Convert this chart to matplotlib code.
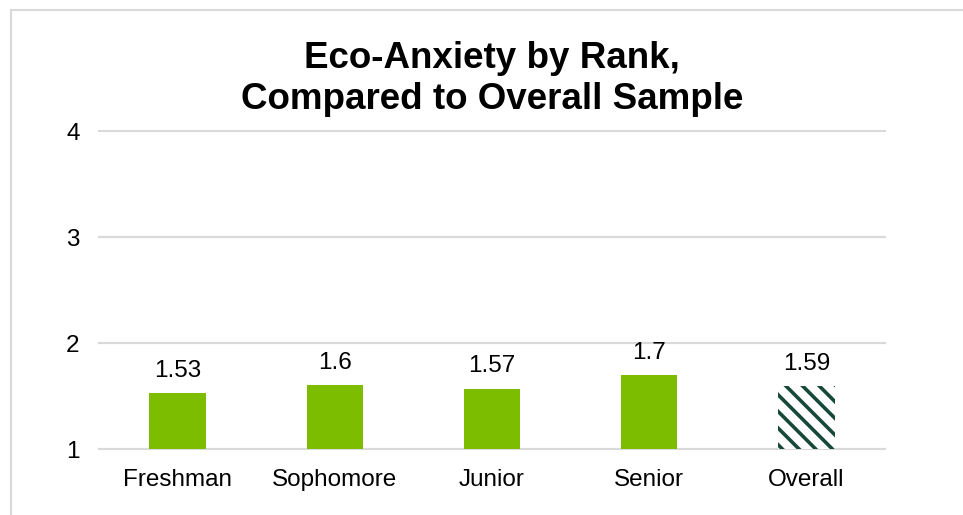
import matplotlib
matplotlib.use("Agg")
import matplotlib.pyplot as plt
from matplotlib.patches import Rectangle

categories = ["Freshman", "Sophomore", "Junior", "Senior", "Overall"]
values = [1.53, 1.6, 1.57, 1.7, 1.59]
labels = ["1.53", "1.6", "1.57", "1.7", "1.59"]
yticks = [1, 2, 3, 4]

plt.rcParams["font.family"] = ["Liberation Sans", "DejaVu Sans"]
plt.rcParams["hatch.linewidth"] = 2.6

W, H = 963, 515
fig = plt.figure(figsize=(W / 100, H / 100), dpi=100)
ax = fig.add_axes([99 / W, 1 - 449 / H, (885 - 99) / W, (449 - 131) / H])

green = "#7DBD00"
hatch_col = "#17493A"
x = list(range(len(categories)))
for i, (c, v) in enumerate(zip(categories, values)):
    if c == "Overall":
        ax.bar(i, v - 1, bottom=1, width=0.365, facecolor="white",
               edgecolor=hatch_col, hatch="\\\\", linewidth=0)
    else:
        ax.bar(i, v - 1, bottom=1, width=0.36, color=green, linewidth=0)
    ax.annotate(labels[i], (i, v), xytext=(0, 8), textcoords="offset points",
                ha="center", va="bottom", fontsize=17.5, color="#000000")

ax.set_xlim(-0.5, len(categories) - 0.5)
ax.set_ylim(1, 4)
ax.set_yticks(yticks)
ax.set_yticklabels([str(t) for t in yticks])
ax.set_xticks(x)
ax.set_xticklabels(categories)
ax.tick_params(axis="both", length=0, labelsize=17.5, colors="#000000")
ax.tick_params(axis="y", pad=14)
ax.tick_params(axis="x", pad=14.5)
for s in ax.spines.values():
    s.set_visible(False)
ax.grid(axis="y", color="#D9D9D9", linewidth=1.5)
ax.set_axisbelow(True)
for t in yticks:
    ax.axhline(t, color="#D9D9D9", linewidth=1.5, zorder=0.5, clip_on=False)

fig.text(492 / W, 1 - 79 / H, "Eco-Anxiety by Rank,\nCompared to Overall Sample",
         ha="center", va="center", fontsize=26.5, fontweight="bold",
         linespacing=1.2, color="#000000")

border = Rectangle((10.5 / W, -0.05), 1.2, (1 - 10 / H) + 0.05,
                   transform=fig.transFigure, fill=False,
                   edgecolor="#D9D9D9", linewidth=1.5, clip_on=False)
fig.patches.append(border)

fig.savefig("out.png", dpi=100, facecolor="white")
